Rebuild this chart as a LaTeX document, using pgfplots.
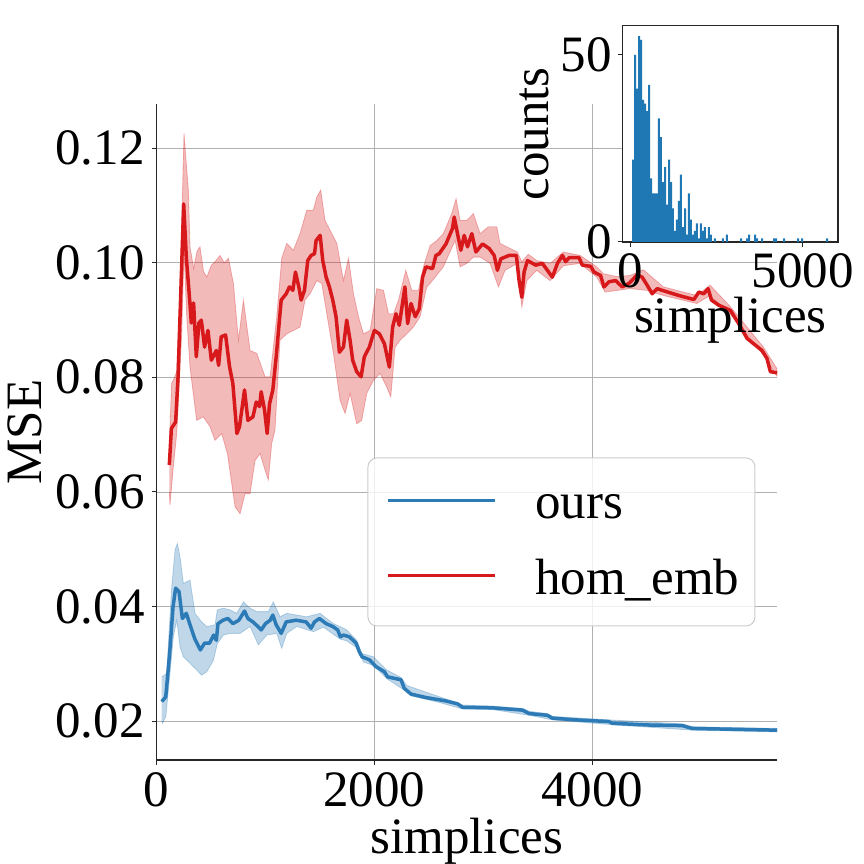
\documentclass[border=0pt]{standalone}
\usepackage{fontspec}
\setmainfont{Liberation Serif}
\usepackage{pgfplots}
\pgfplotsset{compat=1.18}
\definecolor{lblue}{HTML}{2C7BB6}
\definecolor{lred}{HTML}{D7191C}
\definecolor{hblue}{HTML}{1F77B4}
\definecolor{gridgray}{HTML}{B0B0B0}
\definecolor{leggray}{HTML}{CCCCCC}
\begin{document}
\begin{tikzpicture}[font=\fontsize{51bp}{61bp}\selectfont]
\path[use as bounding box] (0bp,0bp) rectangle (864bp,864bp);
\begin{axis}[
  at={(156.7bp,104bp)}, anchor=south west,
  width=620.3bp, height=656bp, scale only axis,
  xmin=0, xmax=5700, ymin=0.01319, ymax=0.12774,
  xtick={0,2000,4000}, ytick={0.02,0.04,0.06,0.08,0.10,0.12},
  scaled x ticks=false, scaled y ticks=false,
  /pgf/number format/assume math mode=true,
  xticklabel style={/pgf/number format/1000 sep={}, inner sep=0pt, anchor=north, yshift=-7bp},
  yticklabel style={/pgf/number format/fixed, /pgf/number format/fixed zerofill, /pgf/number format/precision=2, inner sep=0pt, anchor=east, xshift=-7bp},
  axis x line*=bottom, axis y line*=left,
  axis line style={black!85, line width=1.2bp},
  tick style={black!85, line width=1bp}, major tick length=5bp, tick align=outside,
  grid=major, major grid style={gridgray, line width=0.8bp},
  xlabel={simplices}, ylabel={MSE},
  xlabel style={at={([yshift=-93bp]axis description cs:0.5,0)}, anchor=base, inner sep=0pt},
  ylabel style={at={([xshift=-114.7bp]axis description cs:0,0.5)}, anchor=base, inner sep=0pt},
  clip=false,
]
% blue band
\addplot[forget plot, fill=lblue, fill opacity=0.3, draw=lblue, draw opacity=0.3, line width=0.8bp] coordinates {
(46,0.0277) (92,0.0283) (138,0.0434) (169,0.0499) (190,0.0510) (214,0.0487) (245,0.0440) (306,0.0446) (352,0.0388) (413,0.0373) (460,0.0365) (536,0.0368) (557,0.0394) (613,0.0397) (674,0.0394) (735,0.0388) (797,0.0408) (858,0.0397) (919,0.0391) (980,0.0391) (1026,0.0391) (1072,0.0408) (1133,0.0382) (1195,0.0388) (1287,0.0385) (1379,0.0382) (1501,0.0388) (1624,0.0370) (1685,0.0365) (1746,0.0359) (1838,0.0341) (1884,0.0318) (1992,0.0312) (2114,0.0289) (2245,0.0276) (2298,0.0262) (2604,0.0242) (2810,0.0228) (3086,0.0226) (3361,0.0222) (3422,0.0217) (3590,0.0213) (3636,0.0208) (4156,0.0202) (4829,0.0195) (4920,0.0190) (5700,0.0187)
(5700,0.0181) (4920,0.0184) (4156,0.0194) (3636,0.0202) (3422,0.0210) (3086,0.0220) (2810,0.0221) (2604,0.0232) (2337,0.0244) (2298,0.0251) (2114,0.0274) (1992,0.0297) (1900,0.0303) (1838,0.0328) (1746,0.0340) (1685,0.0343) (1532,0.0364) (1440,0.0356) (1287,0.0365) (1195,0.0353) (1149,0.0327) (1103,0.0353) (1011,0.0350) (934,0.0333) (858,0.0365) (766,0.0353) (674,0.0353) (613,0.0350) (557,0.0335) (521,0.0306) (460,0.0286) (413,0.0280) (367,0.0289) (306,0.0301) (245,0.0312) (214,0.0330) (184,0.0376) (153,0.0347) (122,0.0283) (84,0.0208) (54,0.0196) (46,0.0200)
};
% red band
\addplot[forget plot, fill=lred, fill opacity=0.3, draw=lred, draw opacity=0.3, line width=0.8bp] coordinates {
(116,0.0680) (137,0.0790) (153,0.0795) (184,0.0810) (214,0.0950) (251,0.1226) (291,0.1127) (306,0.1028) (340,0.0990) (370,0.1020) (398,0.1028) (430,0.0985) (460,0.0975) (500,0.0995) (540,0.1003) (582,0.1013) (620,0.1000) (659,0.1008) (705,0.0964) (751,0.0865) (797,0.0935) (858,0.0847) (919,0.0842) (996,0.0801) (1042,0.0801) (1103,0.0906) (1149,0.1008) (1195,0.1034) (1256,0.1022) (1317,0.1051) (1379,0.1092) (1440,0.1092) (1471,0.1115) (1507,0.1127) (1547,0.1074) (1609,0.1051) (1655,0.1034) (1716,0.0969) (1762,0.1008) (1808,0.0946) (1854,0.0906) (1900,0.0876) (1961,0.0882) (2022,0.0955) (2084,0.0952) (2130,0.0911) (2176,0.0911) (2222,0.0935) (2289,0.0987) (2344,0.0952) (2405,0.0952) (2451,0.0993) (2512,0.1030) (2574,0.1039) (2634,0.1051) (2711,0.1086) (2751,0.1112) (2788,0.1074) (2849,0.1074) (2910,0.1086) (2972,0.1051) (3048,0.1063) (3125,0.1063) (3155,0.1034) (3217,0.1028) (3314,0.1019) (3355,0.1002) (3415,0.1015) (3492,0.1004) (3615,0.0999) (3737,0.1019) (3891,0.1013) (4044,0.0993) (4105,0.0981) (4228,0.0976) (4350,0.0978) (4472,0.0988) (4656,0.0958) (4963,0.0943) (5085,0.0961) (5269,0.0924) (5575,0.0853) (5700,0.0815)
(5700,0.0802) (5575,0.0839) (5269,0.0911) (5085,0.0943) (4963,0.0929) (4656,0.0943) (4503,0.0952) (4350,0.0955) (4120,0.0949) (4044,0.0975) (3891,0.0999) (3737,0.0995) (3615,0.0969) (3492,0.0987) (3401,0.0969) (3355,0.0923) (3314,0.0999) (3201,0.0987) (3140,0.0958) (3064,0.0999) (2972,0.1010) (2910,0.1010) (2849,0.0999) (2788,0.0993) (2742,0.1039) (2634,0.0993) (2512,0.0964) (2482,0.0958) (2420,0.0906) (2359,0.0888) (2298,0.0876) (2237,0.0865) (2191,0.0853) (2151,0.0766) (2114,0.0783) (2053,0.0807) (1992,0.0795) (1930,0.0772) (1884,0.0725) (1838,0.0719) (1777,0.0772) (1731,0.0737) (1685,0.0760) (1624,0.0842) (1563,0.0911) (1517,0.0964) (1471,0.0969) (1409,0.0946) (1363,0.0935) (1317,0.0888) (1256,0.0882) (1195,0.0876) (1133,0.0865) (1087,0.0708) (1057,0.0685) (1026,0.0621) (996,0.0638) (950,0.0667) (904,0.0655) (858,0.0597) (812,0.0597) (766,0.0562) (720,0.0574) (689,0.0615) (650,0.0667) (597,0.0702) (536,0.0690) (490,0.0714) (429,0.0731) (367,0.0725) (306,0.0818) (276,0.0906) (251,0.1022) (230,0.0876) (184,0.0702) (153,0.0644) (122,0.0577) (116,0.0600)
};
% blue line
\addplot[lblue, line width=3.5bp, line join=round] coordinates {
(46,0.0234) (83,0.0242) (119,0.0318) (150,0.0399) (174,0.0432) (205,0.0426) (236,0.0379) (272,0.0388) (303,0.0370) (349,0.0344) (401,0.0324) (440,0.0336) (486,0.0336) (523,0.0350) (548,0.0341) (563,0.0370) (609,0.0376) (654,0.0379) (700,0.0370) (755,0.0376) (807,0.0392) (838,0.0379) (884,0.0373) (930,0.0365) (960,0.0359) (1000,0.0370) (1043,0.0376) (1067,0.0385) (1098,0.0368) (1144,0.0353) (1190,0.0373) (1281,0.0376) (1373,0.0373) (1419,0.0362) (1450,0.0373) (1495,0.0379) (1557,0.0370) (1618,0.0365) (1663,0.0359) (1688,0.0347) (1716,0.0350) (1771,0.0347) (1832,0.0336) (1862,0.0321) (1887,0.0312) (1954,0.0307) (2015,0.0295) (2092,0.0286) (2122,0.0277) (2245,0.0272) (2275,0.0257) (2337,0.0247) (2474,0.0241) (2658,0.0235) (2764,0.0230) (2810,0.0224) (3086,0.0223) (3361,0.0219) (3422,0.0213) (3590,0.0210) (3636,0.0205) (3850,0.0202) (4156,0.0199) (4186,0.0196) (4523,0.0193) (4829,0.0192) (4920,0.0187) (5700,0.0184)
};
% red line
\addplot[lred, line width=3.5bp, line join=round] coordinates {
(116,0.0647) (135,0.0711) (174,0.0722) (196,0.0800) (248,0.1103) (272,0.1010) (303,0.0935) (318,0.0895) (339,0.0930) (364,0.0836) (388,0.0895) (410,0.0900) (440,0.0853) (471,0.0882) (502,0.0830) (548,0.0847) (569,0.0821) (593,0.0871) (633,0.0874) (670,0.0818) (700,0.0789) (737,0.0702) (761,0.0714) (807,0.0778) (838,0.0725) (884,0.0731) (915,0.0757) (945,0.0749) (960,0.0775) (991,0.0743) (1015,0.0702) (1037,0.0754) (1067,0.0778) (1098,0.0836) (1144,0.0935) (1190,0.0946) (1220,0.0958) (1251,0.0952) (1275,0.0984) (1306,0.0958) (1327,0.0935) (1358,0.0952) (1388,0.1004) (1419,0.1013) (1450,0.1016) (1465,0.1039) (1502,0.1048) (1526,0.1004) (1557,0.0975) (1587,0.0958) (1618,0.0935) (1648,0.0906) (1679,0.0844) (1716,0.0853) (1746,0.0900) (1777,0.0865) (1801,0.0830) (1838,0.0810) (1878,0.0801) (1908,0.0836) (1954,0.0853) (2000,0.0882) (2046,0.0876) (2092,0.0859) (2138,0.0818) (2168,0.0888) (2199,0.0911) (2229,0.0891) (2281,0.0958) (2306,0.0894) (2337,0.0929) (2376,0.0906) (2413,0.0920) (2443,0.0975) (2474,0.0993) (2535,0.0990) (2566,0.1013) (2596,0.1016) (2658,0.1033) (2718,0.1060) (2734,0.1080) (2764,0.1051) (2795,0.1022) (2826,0.1048) (2856,0.1028) (2896,0.1051) (2933,0.1019) (2994,0.1033) (3055,0.1025) (3101,0.1013) (3131,0.0987) (3162,0.1007) (3238,0.1013) (3305,0.1013) (3330,0.0969) (3355,0.0940) (3376,0.0984) (3407,0.1004) (3483,0.0996) (3544,0.0999) (3590,0.0987) (3636,0.0975) (3682,0.0999) (3728,0.1013) (3758,0.1002) (3789,0.1009) (3881,0.1009) (3911,0.0996) (3988,0.0994) (4018,0.0984) (4079,0.0978) (4110,0.0958) (4156,0.0967) (4217,0.0969) (4278,0.0958) (4339,0.0964) (4416,0.0979) (4461,0.0975) (4507,0.0961) (4553,0.0946) (4599,0.0955) (4645,0.0952) (4798,0.0943) (4936,0.0936) (4982,0.0949) (5027,0.0946) (5067,0.0955) (5098,0.0935) (5165,0.0926) (5272,0.0917) (5348,0.0894) (5425,0.0868) (5562,0.0847) (5608,0.0833) (5639,0.0810) (5700,0.0808)
};
% legend
\draw[leggray, line width=1bp, fill=white, fill opacity=0.8, rounded corners=9bp] (axis description cs:0.3406,0.4604) rectangle (axis description cs:0.9645,0.2043);
\draw[lblue, line width=3bp] (axis description cs:0.3728,0.3963) -- (axis description cs:0.5453,0.3963);
\node[anchor=base west, inner sep=0pt] at (axis description cs:0.6099,0.3689) {ours};
\draw[lred, line width=3bp] (axis description cs:0.3728,0.2805) -- (axis description cs:0.5453,0.2805);
\node[anchor=base west, inner sep=0pt] at (axis description cs:0.6099,0.2530) {hom\_emb};
\end{axis}
\begin{axis}[
  at={(622.7bp,622bp)}, anchor=south west,
  width=215.3bp, height=216.3bp, scale only axis,
  xmin=-233, xmax=6026, ymin=0, ymax=57.8,
  xtick={0,5000}, ytick={0,50},
  scaled x ticks=false, scaled y ticks=false,
  /pgf/number format/assume math mode=true,
  xticklabel style={/pgf/number format/1000 sep={}, inner sep=0pt, anchor=north, yshift=-6bp},
  yticklabel style={inner sep=0pt, anchor=east, xshift=-6bp},
  tick pos=left, tick align=outside, major tick length=5bp,
  tick style={black!85, line width=1bp},
  axis line style={black!85, line width=1.2bp},
  axis background/.style={fill=white},
  xlabel={simplices}, ylabel={counts},
  xlabel style={at={([yshift=-91bp]axis description cs:0.5,0)}, anchor=base, inner sep=0pt},
  ylabel style={at={([xshift=-74.7bp]axis description cs:0,0.5)}, anchor=base, inner sep=0pt},
]
\addplot[ybar, bar width=58.1, bar shift=0pt, fill=hblue, draw=none] coordinates {
(67,22) (125,50) (183,41) (241,55) (299,54) (358,38) (416,37) (474,35) (532,42) (590,17) (648,13) (706,13) (764,13) (822,33) (880,28) (939,16) (997,20) (1055,10) (1113,22) (1171,16) (1229,9) (1287,3) (1345,6) (1403,11) (1461,18) (1520,4) (1578,9) (1636,2) (1694,13) (1752,6) (1810,2) (1868,3) (1926,5) (1984,1) (2042,5) (2101,3) (2159,4) (2217,1) (2275,4) (2333,2) (2449,1) (2682,1) (2798,2) (3206,1) (3381,1) (3439,2) (3614,2) (3672,1) (3817,1) (4166,1) (4224,1) (4456,1) (4863,1) (4980,1) (5707,1)
};
\end{axis}
\end{tikzpicture}
\end{document}
